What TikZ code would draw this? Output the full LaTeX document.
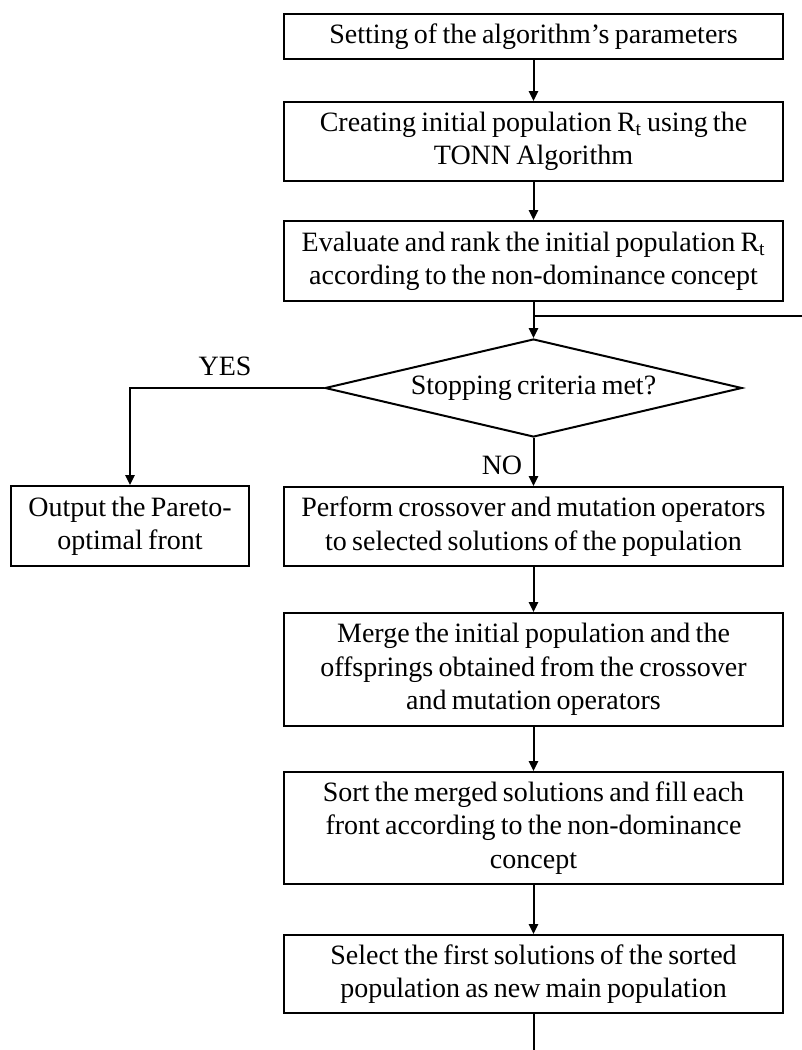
\documentclass[tikz,border=0pt]{standalone}
\usepackage{fontspec}
\setmainfont{Liberation Serif}[WordSpace={0.75,0.5,0.5}]
\usetikzlibrary{shapes.geometric,arrows.meta}
\begin{document}
\begin{tikzpicture}[x=0.75pt,y=-0.75pt,
  every node/.style={font=\fontsize{21}{25}\selectfont},
  box/.style={draw,line width=1.5pt,rectangle,inner xsep=0pt,inner ysep=0pt,align=center},
  mainbox/.style={box,minimum width=374.25pt},
  decision/.style={draw,line width=1.5pt,diamond,inner sep=0pt,shape aspect=4.255,minimum width=312.75pt,minimum height=73.5pt},
  conn/.style={line width=1.5pt},
  arr/.style={conn,-{Triangle[length=7.5pt,width=7pt]}},
  lbl/.style={inner sep=0pt}]
\useasboundingbox (0,0) rectangle (802,1050);
\node[mainbox,minimum height=33.75pt] (b1) at (533.5,36.5) {Setting of the algorithm’s parameters};
\node[mainbox,minimum height=59.25pt] (b2) at (533.5,141.5) {Creating initial population R\textsubscript{t} using the\\TONN Algorithm};
\node[mainbox,minimum height=60pt] (b3) at (533.5,261) {Evaluate and rank the initial population R\textsubscript{t}\\according to the non-dominance concept};
\node[decision] (d) at (533.5,388) {Stopping criteria met?};
\node[box,minimum width=178.5pt,minimum height=60pt] (out) at (130,526) {Output the Pareto-\\optimal front};
\node[mainbox,minimum height=59.25pt] (perf) at (533.5,526.5) {Perform crossover and mutation operators\\to selected solutions of the population};
\node[mainbox,minimum height=84.75pt] (merge) at (533.5,669.5) {Merge the initial population and the\\offsprings obtained from the crossover\\and mutation operators};
\node[mainbox,minimum height=84pt] (sort) at (533.5,828) {Sort the merged solutions and fill each\\front according to the non-dominance\\concept};
\node[mainbox,minimum height=58.5pt] (sel) at (533.5,974) {Select the first solutions of the sorted\\population as new main population};
\coordinate (j) at (533.5,316);
\coordinate (re) at (802,316);
\coordinate (bend) at (130,388);
\coordinate (fin) at (533.5,1050);
\draw[arr] (b1) -- (b2);
\draw[arr] (b2) -- (b3);
\draw[arr] (b3) -- (d.north);
\draw[conn] (re) -- (j);
\draw[arr] (d.west) -- (bend) -- (out.north);
\draw[arr] (d.south) -- (perf.north);
\draw[arr] (perf) -- (merge);
\draw[arr] (merge) -- (sort);
\draw[arr] (sort) -- (sel);
\draw[conn] (sel.south) -- (fin);
\node[lbl] (yes) at (225,366) {YES};
\node[lbl] (no) at (502,465) {NO};
\end{tikzpicture}
\end{document}
